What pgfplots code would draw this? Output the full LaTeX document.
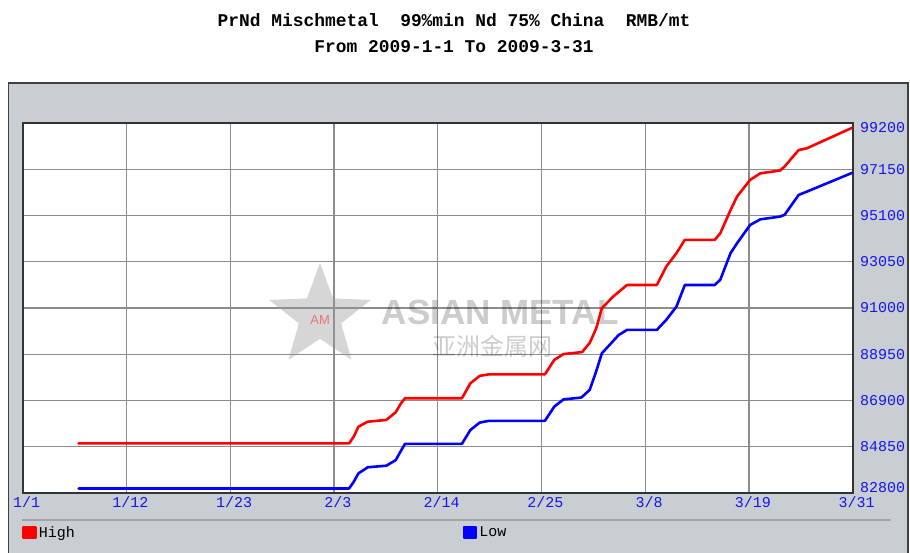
\documentclass[border=0pt]{standalone}
\usepackage{fontspec}
\usepackage{pgfplots}
\pgfplotsset{compat=1.18}
\usetikzlibrary{shapes.geometric}
\setmainfont{Liberation Mono}
\newfontfamily\cjk{Noto Sans CJK SC}
\newfontfamily\wmfont{Liberation Sans}
\definecolor{panel}{RGB}{201,206,211}
\definecolor{gridc}{RGB}{140,140,140}
\definecolor{tickblue}{RGB}{20,20,235}
\begin{document}
\begin{tikzpicture}
\path[use as bounding box, fill=white] (-22.7pt,-60pt) rectangle (887.3pt,493pt);
\fill[panel] (-14pt,-60pt) rectangle (885.3pt,410pt);
\draw[black!75, line width=1.5pt] (-14pt,-62pt) -- (-14pt,410pt) -- (885.3pt,410pt) -- (885.3pt,-62pt);
\node[font=\bfseries\fontsize{17.9}{18}\selectfont] at (431.3pt,473pt) {PrNd Mischmetal~~99\%min Nd 75\% China~~RMB/mt};
\node[font=\bfseries\fontsize{17.9}{18}\selectfont] at (431.3pt,446pt) {From 2009-1-1 To 2009-3-31};
\draw[gridc!80, line width=2pt] (-0.7pt,-27pt) -- (868.3pt,-27pt);
\begin{axis}[
  scale only axis, width=830pt, height=370pt, at={(0pt,0pt)}, anchor=south west,
  xmin=0, xmax=89, ymin=82800, ymax=99200,
  scaled y ticks=false, scaled x ticks=false,
  axis background/.style={fill=white},
  xtick={0,11.125,22.25,33.375,44.5,55.625,66.75,77.875,89},
  xticklabels={1/1,1/12,1/23,2/3,2/14,2/25,3/8,3/19,3/31},
  ytick={82800,84850,86900,88950,91000,93050,95100,97150,99200},
  yticklabels={\raisebox{5pt}[\height][\depth]{82800},84850,86900,88950,91000,93050,95100,97150,\raisebox{-5pt}[\height][\depth]{99200}},
  yticklabel pos=right,
  major tick length=0pt,
  grid=major, grid style={gridc, line width=1.2pt},
  axis line style={black!80, line width=2pt},
  tick label style={font=\fontsize{15}{15}\selectfont, text=tickblue},
  xticklabel style={xshift=4pt},
  yticklabel style={anchor=west, xshift=4pt},
  legend columns=2,
  legend style={at={(axis description cs:0,0)}, anchor=west, xshift=-0.7pt, yshift=-39.5pt,
    draw=none, fill=none, inner xsep=0pt, inner ysep=0pt,
    font=\fontsize{15}{15}\selectfont,
    /tikz/every even column/.append style={column sep=386pt}},
  legend image code/.code={\fill[#1] (0pt,-5.5pt) rectangle (12pt,5.5pt);},
]
\node[star, star points=5, star point ratio=2.4, minimum size=107pt, inner sep=0pt,
  fill=black!40, opacity=0.4] at (axis cs:31.88,90624) {};
\node[font=\wmfont\fontsize{13}{13}\selectfont, text=red, opacity=0.45] at (axis cs:31.9,90450) {AM};
\node[font=\wmfont\bfseries\fontsize{35}{35}\selectfont, text=black, opacity=0.2] at (axis cs:51.2,90802) {ASIAN METAL};
\node[font=\cjk\fontsize{24}{24}\selectfont, text=black, opacity=0.2] at (axis cs:50.4,89317) {亚洲金属网};
\addplot[red, line width=2.6pt, line join=round, line cap=round] coordinates {
(6,85000) (35,85000) (35.5,85300) (36,85740) (37,85960) (38,86000) (39,86040) (40,86380) (40.6,86800) (41,87000)
(47.1,87000) (48,87660) (49,87990) (50,88060) (56,88060) (57,88700) (58,88960) (59,89000) (60,89050) (60.8,89450)
(61.5,90100) (62.1,90990) (63.3,91500) (64.8,92020) (68,92020) (69,92830) (70.1,93430) (71,94020) (74.2,94020)
(74.8,94310) (75.9,95340) (76.6,95940) (78,96680) (79.1,96970) (81.2,97090) (81.7,97270) (83.2,98000) (84.1,98080) (89,99000)};
\addlegendentry{High}
\addplot[blue, line width=2.6pt, line join=round, line cap=round] coordinates {
(6,83000) (35,83000) (35.5,83300) (36,83670) (37,83940) (39,84010) (40,84260) (40.6,84700) (41,84980)
(47.1,84980) (48,85590) (49,85920) (50,86000) (56,86000) (57,86630) (58,86950) (59.9,87030) (60.8,87370)
(61.5,88200) (62.1,88990) (63.9,89800) (64.8,90030) (68,90030) (69,90470) (70.1,91060) (71,92020) (74.2,92020)
(74.8,92250) (75.9,93430) (76.6,93870) (78,94680) (79.1,94930) (81.2,95050) (81.7,95130) (83.2,96010) (84.1,96160) (89,97000)};
\addlegendentry{Low}
\end{axis}
\end{tikzpicture}
\end{document}
